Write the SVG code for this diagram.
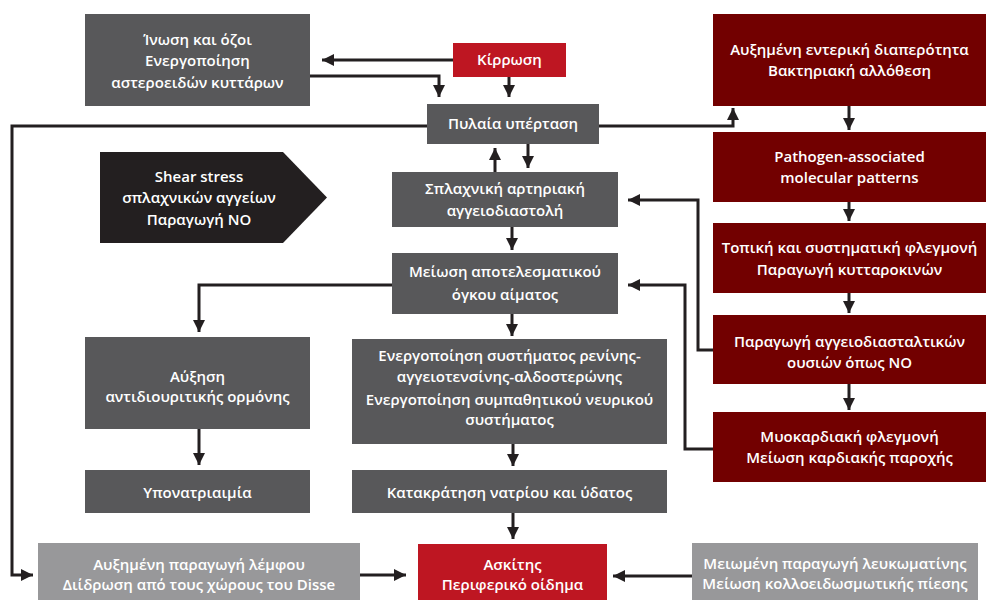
<svg xmlns="http://www.w3.org/2000/svg" width="992" height="600" viewBox="0 0 992 600">
<defs>
<marker id="ah" markerUnits="userSpaceOnUse" markerWidth="14" markerHeight="14" viewBox="0 0 14 14" refX="12" refY="7" orient="auto">
<path d="M0,1 L12,7 L0,13 Z" fill="#231f20"/>
</marker>
<style>
.dg{fill:#58585a}
.rd{fill:#be1622}
.dr{fill:#720000}
.lg{fill:#98989a}
.bk{fill:#231f20}
text{font-family:"Open Sans","Noto Sans","DejaVu Sans",sans-serif;font-weight:600;font-size:15px;fill:#ffffff;text-anchor:middle}
.c{fill:none;stroke:#231f20;stroke-width:3}
.a{marker-end:url(#ah)}
</style>
</defs>
<rect width="992" height="600" fill="#ffffff"/>
<g id="connectors">
<path class="c a" d="M453,60 H322"/>
<path class="c a" d="M310,76 H439 V97"/>
<path class="c a" d="M509,77 V97"/>
<path class="c a" d="M427,126 H12 V575 H33"/>
<path class="c a" d="M599,126 H733 V108"/>
<path class="c a" d="M495,172 V148"/>
<path class="c a" d="M528,144 V168"/>
<path class="c a" d="M512,227 V250"/>
<path class="c a" d="M512,314 V336"/>
<path class="c a" d="M392,285 H199 V332"/>
<path class="c a" d="M199,429 V465"/>
<path class="c a" d="M513,444 V466"/>
<path class="c a" d="M513,513 V539"/>
<path class="c a" d="M360,575 H406"/>
<path class="c a" d="M692,576 H613"/>
<path class="c a" d="M849,106 V130"/>
<path class="c a" d="M849,202 V221"/>
<path class="c a" d="M849,293 V313"/>
<path class="c a" d="M849,384 V410"/>
<path class="c a" d="M713,350 H698 V200 H628"/>
<path class="c a" d="M713,449 H685 V285 H628"/>
</g>
<g id="n-inosi"><rect class="dg" x="85" y="14" width="225" height="92"/><text x="197.5" y="45">Ίνωση και όζοι</text><text x="197.5" y="66">Ενεργοποίηση</text><text x="197.5" y="88">αστεροειδών κυττάρων</text></g>
<g id="n-kirrosi"><rect class="rd" x="453" y="43" width="113" height="34"/><text x="509.5" y="65">Κίρρωση</text></g>
<g id="n-pylaia"><rect class="dg" x="427" y="104" width="172" height="40"/><text x="513" y="129">Πυλαία υπέρταση</text></g>
<g id="n-shear"><path class="bk" d="M100,152 H283 L327,197.5 L283,243 H100 Z"/><text x="199" y="182">Shear stress</text><text x="199" y="203">σπλαχνικών αγγείων</text><text x="199" y="225">Παραγωγή NO</text></g>
<g id="n-splaxniki"><rect class="dg" x="392" y="172" width="226" height="55"/><text x="505" y="194">Σπλαχνική αρτηριακή</text><text x="505" y="216">αγγειοδιαστολή</text></g>
<g id="n-meiosi"><rect class="dg" x="392" y="253" width="226" height="61"/><text x="505" y="277">Μείωση αποτελεσματικού</text><text x="505" y="300">όγκου αίματος</text></g>
<g id="n-afxisi"><rect class="dg" x="85" y="337" width="225" height="92"/><text x="197.5" y="382">Αύξηση</text><text x="197.5" y="402">αντιδιουριτικής ορμόνης</text></g>
<g id="n-ypon"><rect class="dg" x="85" y="470" width="225" height="43"/><text x="197.5" y="498">Υπονατριαιμία</text></g>
<g id="n-energ"><rect class="dg" x="352" y="339" width="315" height="105"/><text x="509.5" y="361">Ενεργοποίηση συστήματος ρενίνης-</text><text x="509.5" y="382">αγγειοτενσίνης-αλδοστερώνης</text><text x="509.5" y="405">Ενεργοποίηση συμπαθητικού νευρικού</text><text x="509.5" y="425">συστήματος</text></g>
<g id="n-katakr"><rect class="dg" x="352" y="470" width="315" height="43"/><text x="509.5" y="498">Κατακράτηση νατρίου και ύδατος</text></g>
<g id="n-askitis"><rect class="rd" x="418" y="544" width="189" height="56"/><text x="512.5" y="570">Ασκίτης</text><text x="512.5" y="590">Περιφερικό οίδημα</text></g>
<g id="n-lemfos"><rect class="lg" x="38" y="543" width="322" height="57"/><text x="199" y="570">Αυξημένη παραγωγή λέμφου</text><text x="199" y="590">Διίδρωση από τους χώρους του Disse</text></g>
<g id="n-lefkom"><rect class="lg" x="692" y="543" width="286" height="57"/><text x="835" y="569">Μειωμένη παραγωγή λευκωματίνης</text><text x="835" y="589">Μείωση κολλοειδωσμωτικής πίεσης</text></g>
<g id="n-enteriki"><rect class="dr" x="713" y="14" width="273" height="92"/><text x="849.5" y="55">Αυξημένη εντερική διαπερότητα</text><text x="849.5" y="76">Βακτηριακή αλλόθεση</text></g>
<g id="n-pamps"><rect class="dr" x="713" y="132" width="273" height="70"/><text x="849.5" y="162">Pathogen-associated</text><text x="849.5" y="183">molecular patterns</text></g>
<g id="n-flegmoni"><rect class="dr" x="713" y="223" width="273" height="70"/><text x="849.5" y="253">Τοπική και συστηματική φλεγμονή</text><text x="849.5" y="275">Παραγωγή κυτταροκινών</text></g>
<g id="n-no"><rect class="dr" x="713" y="315" width="273" height="69"/><text x="849.5" y="347">Παραγωγή αγγειοδιασταλτικών</text><text x="849.5" y="368">ουσιών όπως NO</text></g>
<g id="n-myok"><rect class="dr" x="713" y="412" width="273" height="70"/><text x="849.5" y="442">Μυοκαρδιακή φλεγμονή</text><text x="849.5" y="463">Μείωση καρδιακής παροχής</text></g>
</svg>
